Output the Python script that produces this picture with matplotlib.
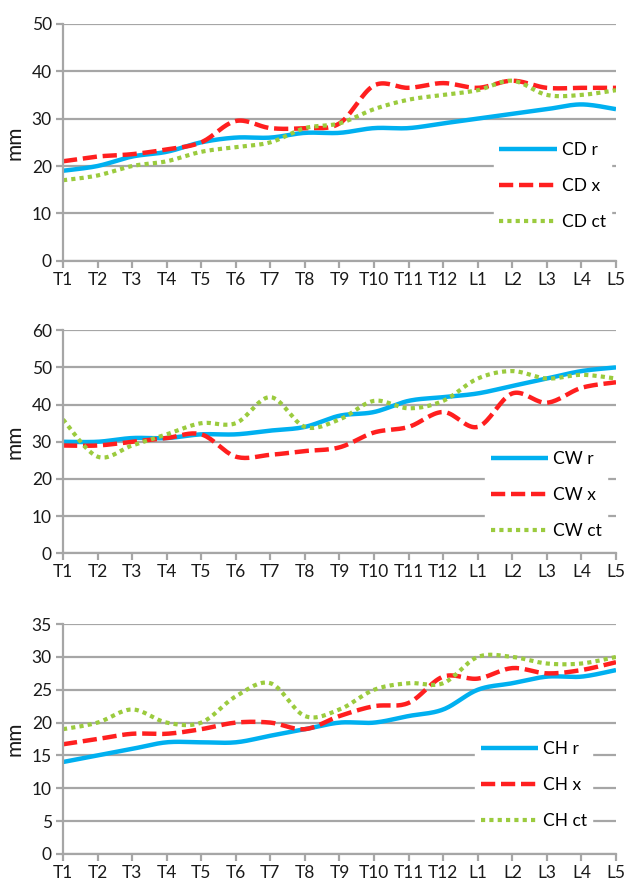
# three smoothed line panels (CD / CW / CH), excel style
import numpy as np
import matplotlib.pyplot as plt

plt.rcParams['font.family'] = ['Lato', 'DejaVu Sans']

labels = ['T1', 'T2', 'T3', 'T4', 'T5', 'T6', 'T7', 'T8', 'T9', 'T10', 'T11', 'T12',
          'L1', 'L2', 'L3', 'L4', 'L5']

cd_r = [19, 20, 22, 23, 25, 26, 26, 27, 27, 28, 28, 29, 30, 31, 32, 33, 32]
cd_x = [21, 22, 22.5, 23.5, 25, 29.5, 28, 28, 29, 37, 36.5, 37.5, 36.5, 38, 36.5, 36.5, 36.5]
cd_ct = [17, 18, 20, 21, 23, 24, 25, 28, 29, 32, 34, 35, 36, 38, 35, 35, 36]

cw_r = [30, 30, 31, 31, 32, 32, 33, 34, 37, 38, 41, 42, 43, 45, 47, 49, 50]
cw_x = [29, 29, 30, 31, 32, 26, 26.5, 27.5, 28.5, 32.5, 34, 38, 34, 43, 40.5, 44.5, 46]
cw_ct = [36, 26, 29, 32, 35, 35, 42, 34, 36, 41, 39, 41, 47, 49, 47, 48, 47]

ch_r = [14, 15, 16, 17, 17, 17, 18, 19, 20, 20, 21, 22, 25, 26, 27, 27, 28]
ch_x = [16.7, 17.5, 18.3, 18.3, 19, 20, 20, 19, 21, 22.5, 23, 27, 26.7, 28.3, 27.5, 28, 29.2]
ch_ct = [19, 20, 22, 20, 20, 24, 26, 21, 22, 25, 26, 26, 30, 30, 29, 29, 30]


def smooth(y, n=20):
    # bezier smoothing like excel (catmull-rom control points)
    x = np.arange(len(y), dtype=float)
    y = np.asarray(y, dtype=float)
    px = np.concatenate([[x[0]], x, [x[-1]]])
    py = np.concatenate([[y[0]], y, [y[-1]]])
    xs, ys = [], []
    t = np.linspace(0, 1, n)
    for i in range(len(x) - 1):
        p0 = np.array([px[i + 1], py[i + 1]])
        p3 = np.array([px[i + 2], py[i + 2]])
        c1 = p0 + (p3 - np.array([px[i], py[i]])) / 6
        c2 = p3 - (np.array([px[i + 3], py[i + 3]]) - p0) / 6
        b = ((1 - t) ** 3)[:, None] * p0 + (3 * (1 - t) ** 2 * t)[:, None] * c1 \
            + (3 * (1 - t) * t ** 2)[:, None] * c2 + (t ** 3)[:, None] * p3
        xs.append(b[:, 0])
        ys.append(b[:, 1])
    return np.concatenate(xs), np.concatenate(ys)


panels = [
    ('CD', cd_r, cd_x, cd_ct, 50, 10, (0.705, 0.268), (0.764, 0.56)),
    ('CW', cw_r, cw_x, cw_ct, 60, 10, (0.374, 0.2525), (0.748, 0.52)),
    ('CH', ch_r, ch_x, ch_ct, 35, 5, (0.034, 0.260), (0.73, 0.553)),
]

fig = plt.figure(figsize=(6.28, 8.84), dpi=100)
grid_c = '#A6A6A6'

for name, r, xx, ct, ymax, step, (bot, h), anchor in panels:
    ax = fig.add_axes([0.1003, bot, 0.8806, h])
    ax.plot(*smooth(r), color='#00B0F0', lw=3.2, solid_capstyle='butt', label=name + ' r')
    ax.plot(*smooth(xx), color='#FF1F1F', lw=3.2, linestyle=(0, (3.2, 1.3)), label=name + ' x')
    ax.plot(*smooth(ct), color='#9BCB3E', lw=3.0, linestyle=(0, (1, 1)), label=name + ' ct')
    ax.set_xlim(0, len(labels) - 1)
    ax.set_ylim(0, ymax)
    ax.set_yticks(np.arange(0, ymax + 1, step))
    ax.set_xticks(np.arange(len(labels)))
    ax.set_xticklabels(labels)
    ax.yaxis.grid(True, color=grid_c, lw=1.6)
    ax.set_axisbelow(True)
    for s in ['top', 'right']:
        ax.spines[s].set_visible(False)
    for s in ['left', 'bottom']:
        ax.spines[s].set_color(grid_c)
        ax.spines[s].set_linewidth(1.6)
    ax.tick_params(axis='both', colors=grid_c, width=1.6, length=5, labelsize=12.5,
                   labelcolor='#1a1a1a', pad=3)
    ax.set_ylabel('mm', fontsize=15, color='#1a1a1a', labelpad=5)
    leg = ax.legend(loc='upper left', bbox_to_anchor=anchor, frameon=True, fontsize=12.5,
                    handlelength=3.3, handletextpad=0.3, labelspacing=1.15,
                    borderpad=0.3, fancybox=False)
    leg.get_frame().set_facecolor('white')
    leg.get_frame().set_edgecolor('white')
    leg.get_frame().set_alpha(1)

fig.savefig('out.png', dpi=100)
